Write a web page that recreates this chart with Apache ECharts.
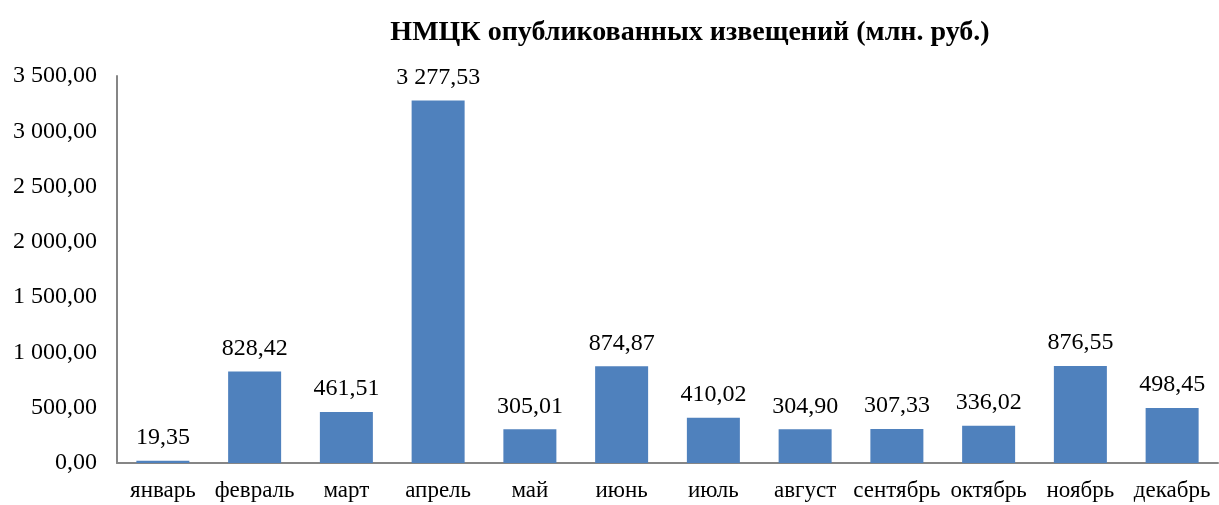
<!DOCTYPE html>
<html>
<head>
<meta charset="utf-8">
<script src="https://cdn.jsdelivr.net/npm/echarts@6/dist/echarts.min.js"></script>
<style>
  html, body { margin: 0; padding: 0; background: #fff; }
  #chart { width: 1219px; height: 505px; }
</style>
</head>
<body>
<div id="chart"></div>
<script>
const months = ["январь", "февраль", "март", "апрель", "май", "июнь", "июль", "август", "сентябрь", "октябрь", "ноябрь", "декабрь"];
const values = [19.35, 828.42, 461.51, 3277.53, 305.01, 874.87, 410.02, 304.90, 307.33, 336.02, 876.55, 498.45];

const FONT = "'Liberation Serif', 'DejaVu Serif', serif";

// "3 500,00" style
function fmt(v) {
  const parts = v.toFixed(2).split(".");
  const int = parts[0].replace(/\B(?=(\d{3})+(?!\d))/g, " ");
  return int + "," + parts[1];
}

const chart = echarts.init(document.getElementById("chart"));
chart.setOption({
  animation: false,
  backgroundColor: "#fff",
  title: {
    text: "НМЦК опубликованных извещений (млн. руб.)",
    left: 685,
    textAlign: "center",
    top: 14,
    textStyle: { fontFamily: FONT, fontSize: 28, fontWeight: "bold", color: "#000" }
  },
  grid: { left: 117, right: 1, top: 76, bottom: 42 },
  xAxis: {
    type: "category",
    data: months,
    axisLine: { lineStyle: { color: "#868686", width: 2 } },
    axisTick: { show: false },
    axisLabel: { fontFamily: FONT, fontSize: 23, color: "#000", margin: 16, interval: 0 }
  },
  yAxis: {
    type: "value",
    min: 0,
    max: 3500,
    interval: 500,
    axisLine: { show: true, lineStyle: { color: "#868686", width: 2 } },
    axisTick: { show: false },
    splitLine: { show: false },
    axisLabel: { fontFamily: FONT, fontSize: 24, color: "#000", margin: 20, formatter: fmt }
  },
  series: [{
    type: "bar",
    data: values,
    barWidth: 53,
    itemStyle: { color: "#4F81BD" },
    label: {
      show: true,
      position: "top",
      distance: 11,
      fontFamily: FONT,
      fontSize: 24,
      color: "#000",
      formatter: p => fmt(p.value)
    }
  }]
});
</script>
</body>
</html>
